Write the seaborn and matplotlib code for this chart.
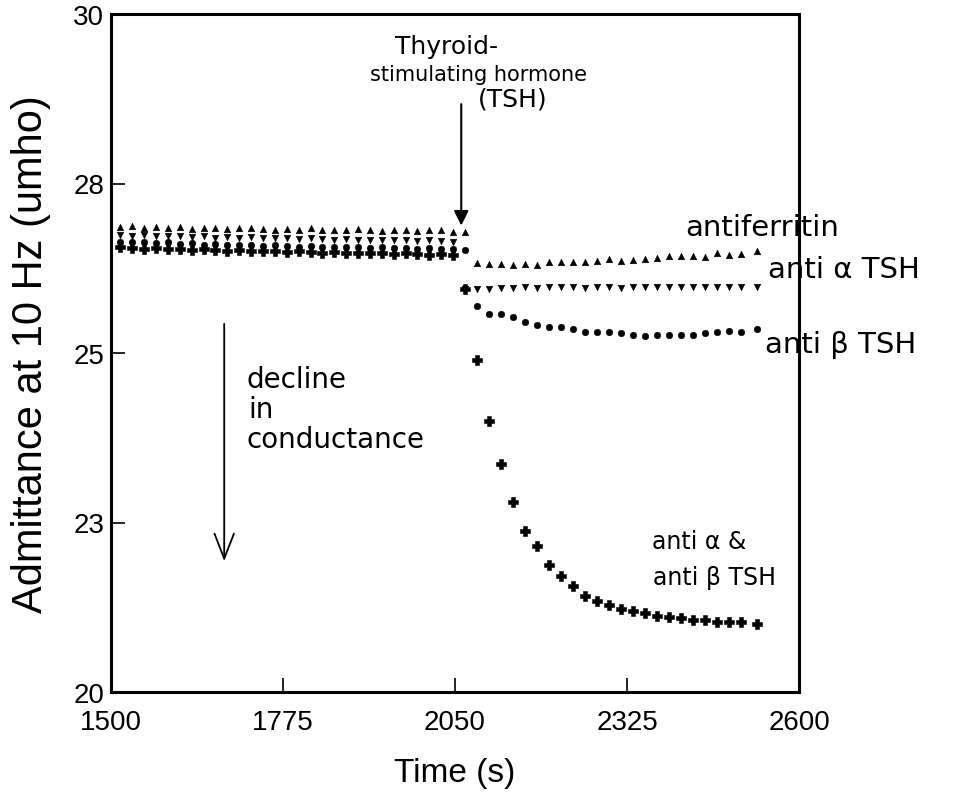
import matplotlib
matplotlib.use("Agg")
import matplotlib.pyplot as plt
import seaborn as sns
import pandas as pd

# Sampling times (s)
t_pre = [1515, 1534, 1553, 1572, 1591, 1610, 1629, 1648, 1667, 1686,
         1705, 1724, 1743, 1762, 1781, 1800, 1819, 1838, 1857, 1876,
         1895, 1914, 1933, 1952, 1971, 1990, 2009, 2028, 2047, 2066]
t_post = [2085, 2104, 2124, 2143, 2162, 2181, 2200, 2220, 2239, 2258,
          2277, 2296, 2316, 2335, 2354, 2373, 2392, 2412, 2431, 2450,
          2469, 2488, 2508, 2533]

# Admittance at 10 Hz (umho), before and after TSH addition
antiferritin_pre = [26.86, 26.87, 26.85, 26.86, 26.84, 26.86, 26.83, 26.84, 26.85, 26.83,
                    26.84, 26.85, 26.83, 26.82, 26.83, 26.82, 26.84, 26.82, 26.81, 26.82,
                    26.83, 26.81, 26.80, 26.82, 26.81, 26.80, 26.81, 26.81, 26.79, 26.79]
antiferritin_post = [26.33, 26.31, 26.31, 26.30, 26.31, 26.30, 26.34, 26.34, 26.34, 26.34,
                     26.35, 26.39, 26.35, 26.37, 26.38, 26.40, 26.43, 26.43, 26.43, 26.41,
                     26.47, 26.45, 26.46, 26.51]

anti_alpha_pre = [26.74, 26.73, 26.74, 26.72, 26.73, 26.72, 26.71, 26.72, 26.70, 26.71,
                  26.70, 26.71, 26.69, 26.70, 26.69, 26.68, 26.69, 26.68, 26.67, 26.68,
                  26.67, 26.66, 26.67, 26.66, 26.66, 26.65, 26.66, 26.65, 26.64, 25.95]
anti_alpha_post = [25.94, 25.95, 25.96, 25.96, 25.97, 25.96, 25.97, 25.97, 25.97, 25.96,
                   25.97, 25.98, 25.96, 25.97, 25.97, 25.98, 25.98, 25.97, 25.97, 25.98,
                   25.98, 25.98, 25.98, 25.98]

anti_beta_pre = [26.64, 26.63, 26.64, 26.62, 26.63, 26.61, 26.62, 26.60, 26.61, 26.60,
                 26.59, 26.60, 26.58, 26.59, 26.58, 26.57, 26.58, 26.57, 26.56, 26.57,
                 26.56, 26.55, 26.56, 26.55, 26.55, 26.54, 26.55, 26.54, 26.53, 26.52]
anti_beta_post = [25.70, 25.58, 25.58, 25.53, 25.45, 25.41, 25.38, 25.39, 25.36, 25.31,
                  25.31, 25.31, 25.29, 25.26, 25.25, 25.27, 25.27, 25.27, 25.26, 25.29,
                  25.31, 25.33, 25.31, 25.36]

anti_both_pre = [26.56, 26.55, 26.54, 26.55, 26.53, 26.54, 26.52, 26.53, 26.52, 26.51,
                 26.52, 26.50, 26.51, 26.50, 26.49, 26.50, 26.49, 26.48, 26.49, 26.48,
                 26.47, 26.48, 26.47, 26.46, 26.47, 26.46, 26.45, 26.46, 26.45, 25.95]
anti_both_post = [24.90, 24.00, 23.36, 22.80, 22.37, 22.15, 21.87, 21.71, 21.56, 21.42,
                  21.34, 21.28, 21.22, 21.19, 21.17, 21.12, 21.11, 21.09, 21.06, 21.06,
                  21.03, 21.03, 21.03, 21.00]

x_ticks = [1500, 1775, 2050, 2325, 2600]
x_tick_labels = ["1500", "1775", "2050", "2325", "2600"]
y_ticks = [20, 22.5, 25, 27.5, 30]
y_tick_labels = ["20", "23", "25", "28", "30"]

series = {
    "antiferritin": (antiferritin_pre + antiferritin_post, "^", 22),
    "anti alpha TSH": (anti_alpha_pre + anti_alpha_post, "v", 22),
    "anti beta TSH": (anti_beta_pre + anti_beta_post, "o", 22),
    "anti alpha & anti beta TSH": (anti_both_pre + anti_both_post, "P", 44),
}
times = t_pre + t_post

sns.set_theme(style="white")
plt.rcParams["font.family"] = ["Liberation Sans", "DejaVu Sans"]

fig = plt.figure(figsize=(9.65, 8.03), dpi=100)
ax = fig.add_axes([111 / 965, 1 - 693 / 803, 688 / 965, 678 / 803])

for name, (vals, marker, size) in series.items():
    df = pd.DataFrame({"Time (s)": times, "Admittance": vals})
    sns.scatterplot(data=df, x="Time (s)", y="Admittance", ax=ax,
                    marker=marker, s=size, color="black",
                    edgecolor="black", linewidth=0.4, legend=False)

ax.set_xlim(1500, 2600)
ax.set_ylim(20, 30)
ax.set_xticks(x_ticks)
ax.set_xticklabels(x_tick_labels)
ax.set_yticks(y_ticks)
ax.set_yticklabels(y_tick_labels)

for lab in ax.get_xticklabels() + ax.get_yticklabels():
    lab.set_fontsize(20)
    lab.set_color("black")

ax.tick_params(axis="both", direction="in", length=10, width=1.2,
               color="black", bottom=True, left=True, top=False, right=False)
ax.tick_params(axis="x", pad=12)
ax.tick_params(axis="y", pad=5)

for sp in ax.spines.values():
    sp.set_visible(True)
    sp.set_color("black")
    sp.set_linewidth(2.2)

ax.set_xlabel("Time (s)", fontsize=24, color="black", labelpad=16)
ax.set_ylabel("Admittance at 10 Hz (umho)", fontsize=30, color="black", labelpad=16)

# Handwritten-style annotations
hand = dict(family="DejaVu Sans", color="black", clip_on=False)
ax.text(2037, 29.53, "Thyroid-", fontsize=18, ha="center", va="center", **hand)
ax.text(2087, 29.11, "stimulating hormone", fontsize=15, ha="center", va="center", **hand)
ax.text(2143, 28.75, "(TSH)", fontsize=18, ha="center", va="center", **hand)
ax.annotate("", xy=(2060, 26.88), xytext=(2060, 28.67),
            arrowprops=dict(arrowstyle="-|>", color="black", lw=1.5,
                            mutation_scale=22, shrinkA=0, shrinkB=0))

ax.text(2418, 26.86, "antiferritin", fontsize=21, ha="left", va="center", **hand)
ax.text(2550, 26.24, "anti \u03b1 TSH", fontsize=21, ha="left", va="center", **hand)
ax.text(2545, 25.13, "anti \u03b2 TSH", fontsize=21, ha="left", va="center", **hand)
ax.text(2365, 22.23, "anti \u03b1 &", fontsize=17, ha="left", va="center", **hand)
ax.text(2366, 21.70, "anti \u03b2 TSH", fontsize=17, ha="left", va="center", **hand)

ax.text(1717, 24.62, "decline", fontsize=20, ha="left", va="center", **hand)
ax.text(1719, 24.17, "in", fontsize=20, ha="left", va="center", **hand)
ax.text(1717, 23.73, "conductance", fontsize=20, ha="left", va="center", **hand)
ax.annotate("", xy=(1681, 21.93), xytext=(1681, 25.43),
            arrowprops=dict(arrowstyle="->,head_length=0.9,head_width=0.35",
                            color="black", lw=1.3, mutation_scale=20,
                            shrinkA=0, shrinkB=0))

fig.savefig("out.png", dpi=100, facecolor="white")
